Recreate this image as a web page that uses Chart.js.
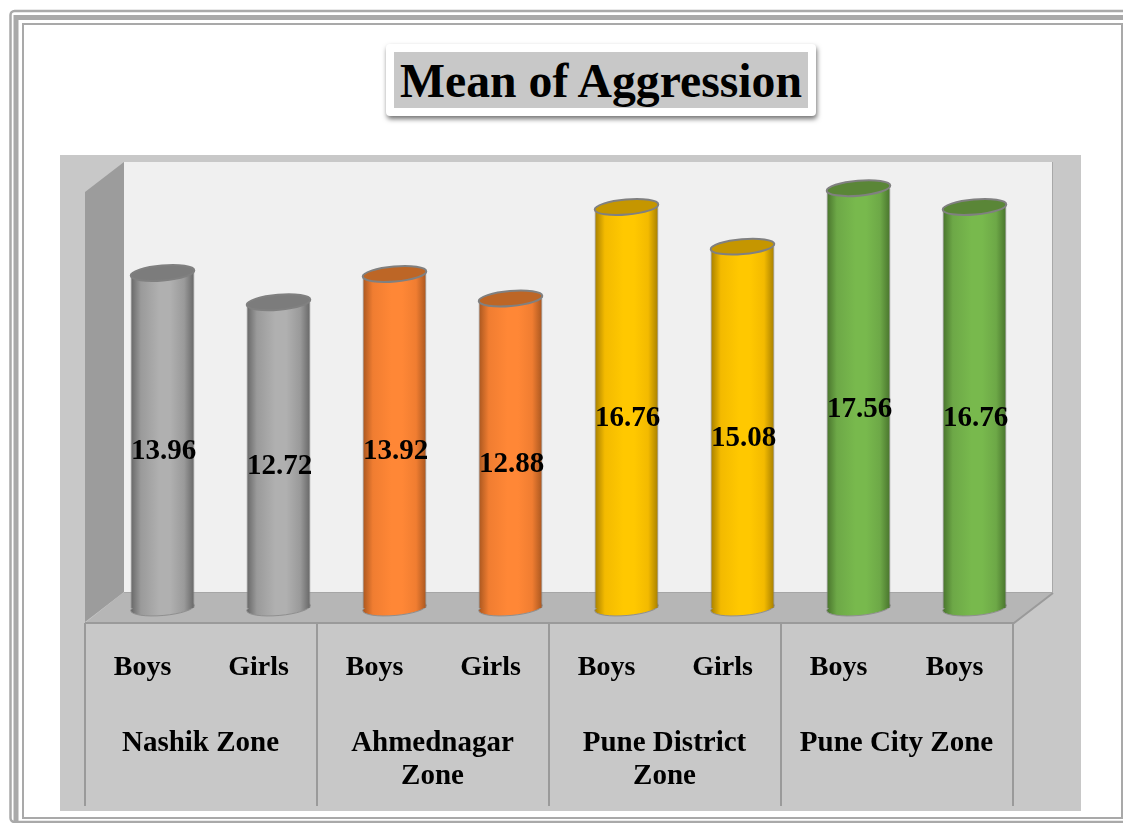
<!DOCTYPE html>
<html>
<head>
<meta charset="utf-8">
<title>Mean of Aggression</title>
<script src="https://cdn.jsdelivr.net/npm/chart.js@4/dist/chart.umd.min.js"></script>
<style>
    body { margin: 0; background: #fff; }
    #wrap { position: relative; width: 1123px; height: 823px; overflow: hidden; }
    canvas { display: block; }
    #title {
        position: absolute; left: 386px; top: 44px; width: 414px; height: 56px; padding: 8px;
        background: #fff; border-radius: 4px; box-shadow: 1px 3px 5px rgba(0, 0, 0, 0.55);
    }
    #title span {
        display: block; height: 56px; background: #c8c8c8; text-align: center;
        font: bold 47.7px/58px "Liberation Serif"; color: #000; white-space: nowrap;
    }
</style>
</head>
<body>
<div id="wrap">
    <canvas id="chart" width="1123" height="823"></canvas>
    <div id="title"><span>Mean of Aggression</span></div>
</div>
<script>
const categories = ['Boys', 'Girls', 'Boys', 'Girls', 'Boys', 'Girls', 'Boys', 'Boys'];
const zones = [['Nashik Zone'], ['Ahmednagar', 'Zone'], ['Pune District', 'Zone'], ['Pune City Zone']];
const means = [13.96, 12.72, 13.92, 12.88, 16.76, 15.08, 17.56, 16.76];

// one palette per zone: bright middle, shoulder, dark edge, top of the cylinder
const palette = [
    { mid: '#b0b0b0', side: '#9a9a9a', edge: '#666666', top: '#7c7c7c' },
    { mid: '#ff8736', side: '#f07d31', edge: '#a8561f', top: '#bd6626' },
    { mid: '#ffc800', side: '#f3ba00', edge: '#a57e00', top: '#c59600' },
    { mid: '#78b94d', side: '#6da847', edge: '#48732c', top: '#5a8637' }
];

const FONT = '"Liberation Serif"';
const LINE = '#9a9a9a';
const BASE_VALUE = -0.25;
const SKEW = 20; // the table sits left of the bars, floor is drawn in perspective
const TILT = -0.085;

function polygon(ctx, pts, fill) {
    ctx.beginPath();
    pts.forEach((p, i) => i ? ctx.lineTo(p[0], p[1]) : ctx.moveTo(p[0], p[1]));
    ctx.closePath();
    ctx.fillStyle = fill;
    ctx.fill();
}

function drawFrame(ctx) {
    ctx.strokeStyle = '#a9a9a9';
    ctx.lineWidth = 2.5;
    ctx.beginPath();
    ctx.roundRect(10.5, 11, 1140, 811, 4);
    ctx.stroke();
    ctx.lineWidth = 5;
    ctx.strokeRect(16, 17.5, 1140, 900);
    ctx.lineWidth = 2;
    ctx.strokeRect(23, 24, 1099, 794);
}

const backdrop = {
    id: 'backdrop',
    beforeDraw(chart) {
        const ctx = chart.ctx;
        drawFrame(ctx);
        ctx.fillStyle = '#c8c8c8';
        ctx.fillRect(60, 155, 1021, 656);
        ctx.fillStyle = '#f0f0f0';
        ctx.fillRect(124, 162, 928, 430);
        ctx.fillStyle = '#a8a8a8';
        ctx.fillRect(1052, 162, 1, 430);
        polygon(ctx, [[85, 192], [124, 162], [124, 592], [85, 622]], '#9c9c9c');
        polygon(ctx, [[124, 592], [1053, 592], [1014, 623], [85, 623]], '#b6b6b6');

        ctx.strokeStyle = LINE;
        ctx.lineWidth = 2;
        ctx.beginPath();
        ctx.moveTo(1053, 593); ctx.lineTo(1014, 623); ctx.lineTo(85, 623);
        ctx.stroke();
        ctx.strokeStyle = '#a6a6a6';
        ctx.lineWidth = 1;
        ctx.beginPath();
        ctx.moveTo(124, 592.5); ctx.lineTo(1053, 592.5);
        ctx.stroke();

        // table below the floor
        const x = chart.scales.x;
        const step = x.width / categories.length;
        ctx.strokeStyle = LINE;
        ctx.lineWidth = 2;
        ctx.beginPath();
        for (let i = 0; i <= zones.length; i++) {
            const px = Math.round(x.left + i * 2 * step - SKEW);
            ctx.moveTo(px, 623);
            ctx.lineTo(px, 806);
        }
        ctx.stroke();
    },
    beforeDatasetsDraw(chart) {
        // bottom of the cylinders
        const ctx = chart.ctx;
        chart.getDatasetMeta(0).data.forEach((bar, i) => {
            const c = palette[Math.floor(i / 2)];
            ctx.beginPath();
            ctx.ellipse(bar.x, bar.base, bar.width / 2, 7.5, TILT, 0, Math.PI * 2);
            ctx.fillStyle = sideGradient(ctx, bar.x, bar.width, c);
            ctx.fill();
            ctx.strokeStyle = '#8f8f8f';
            ctx.lineWidth = 1;
            ctx.stroke();
        });
    },
    afterDatasetsDraw(chart) {
        const ctx = chart.ctx;
        const meta = chart.getDatasetMeta(0);
        meta.data.forEach((bar, i) => {
            const c = palette[Math.floor(i / 2)];
            ctx.beginPath();
            ctx.ellipse(bar.x, bar.y, bar.width / 2, 7.5, TILT, 0, Math.PI * 2);
            ctx.fillStyle = c.top;
            ctx.fill();
            ctx.strokeStyle = '#808080';
            ctx.lineWidth = 2;
            ctx.stroke();
        });

        // value labels
        ctx.fillStyle = '#000';
        ctx.textAlign = 'center';
        ctx.textBaseline = 'middle';
        ctx.font = 'bold 29px ' + FONT;
        meta.data.forEach((bar, i) => {
            ctx.fillText(means[i].toFixed(2), bar.x + 1, (bar.y + bar.base) / 2 + 11);
        });

        // zone names under the Boys / Girls row
        const x = chart.scales.x;
        const step = x.width / categories.length;
        ctx.font = 'bold 29px ' + FONT;
        zones.forEach((lines, i) => {
            const cx = x.left + (i * 2 + 1) * step - SKEW;
            lines.forEach((txt, j) => ctx.fillText(txt, cx, 744 + j * 33));
        });
    }
};

function sideGradient(ctx, cx, w, c) {
    const g = ctx.createLinearGradient(cx - w / 2, 0, cx + w / 2, 0);
    g.addColorStop(0, c.edge);
    g.addColorStop(0.16, c.side);
    g.addColorStop(0.45, c.mid);
    g.addColorStop(0.62, c.mid);
    g.addColorStop(0.84, c.side);
    g.addColorStop(1, c.edge);
    return g;
}

new Chart(document.getElementById('chart'), {
    type: 'bar',
    plugins: [backdrop],
    data: {
        labels: categories,
        datasets: [{
            data: means,
            base: BASE_VALUE,
            clip: false,
            barPercentage: 0.55,
            categoryPercentage: 1,
            borderSkipped: false,
            borderWidth: { left: 1, right: 1, top: 0, bottom: 0 },
            borderColor: '#808080',
            backgroundColor: (c) => {
                const i = c.dataIndex;
                const x = c.chart.scales.x;
                // options also get resolved once before the scale is laid out
                if (i === undefined || !x || !Number.isFinite(x.getPixelForValue(i))) return '#adadad';
                const w = x.width / categories.length * 0.55;
                return sideGradient(c.chart.ctx, x.getPixelForValue(i), w, palette[Math.floor(i / 2)]);
            }
        }]
    },
    options: {
        responsive: false,
        animation: false,
        layout: { padding: { left: 104.5, right: 90.5, top: 166, bottom: 0 } },
        plugins: { legend: { display: false }, tooltip: { enabled: false } },
        scales: {
            y: { display: false, min: BASE_VALUE, max: 18.5 },
            x: {
                afterFit: (scale) => { scale.height = 215; },
                grid: { display: false },
                border: { display: false },
                ticks: {
                    autoSkip: false,
                    maxRotation: 0,
                    padding: 35,
                    labelOffset: -SKEW,
                    color: '#000',
                    font: { family: FONT, size: 28, weight: 'bold' }
                }
            }
        }
    }
});
</script>
</body>
</html>
